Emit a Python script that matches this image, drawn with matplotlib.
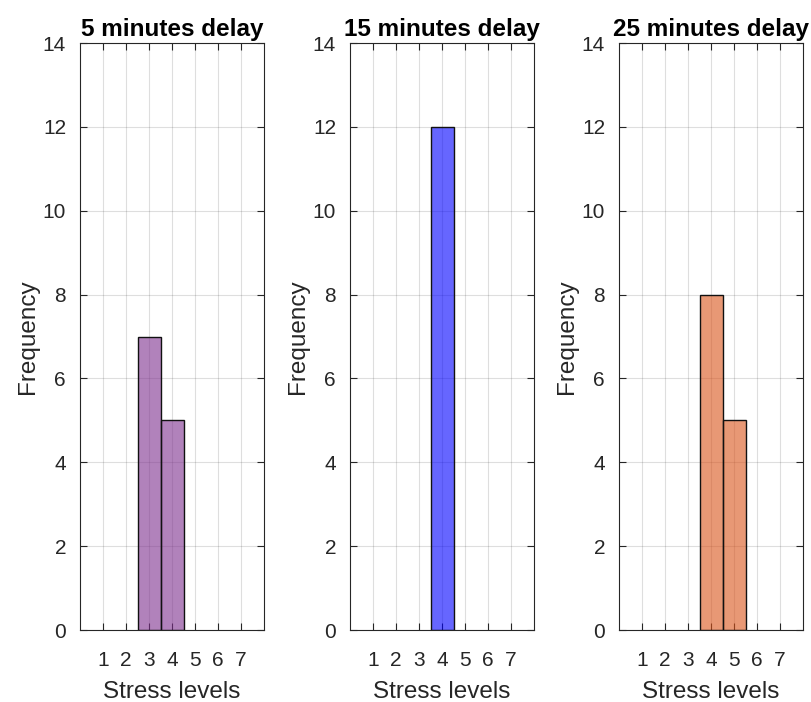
import matplotlib
matplotlib.use("Agg")
import matplotlib.pyplot as plt

plt.rcParams["font.family"] = ["Liberation Sans", "DejaVu Sans"]

# stress level counts per delay
titles = ["5 minutes delay", "15 minutes delay", "25 minutes delay"]
levels = [[3, 4], [4], [4, 5]]
counts = [[7, 5], [12], [8, 5]]
colors = [(0.494, 0.184, 0.556), (0.0, 0.0, 1.0), (0.850, 0.325, 0.098)]
xticks = [1, 2, 3, 4, 5, 6, 7]
yticks = [0, 2, 4, 6, 8, 10, 12, 14]

txt = "#262626"
fig = plt.figure(figsize=(8.11, 7.02), dpi=100)
lefts = [80 / 811, 350 / 811, 619 / 811]
for k in range(3):
    ax = fig.add_axes([lefts[k], 72 / 702, 184 / 811, 587 / 702])
    ax.bar(levels[k], counts[k], width=1.0, color=colors[k] + (0.6,),
           edgecolor="#111111", linewidth=1.0, zorder=3)
    ax.set_xlim(0, 8)
    ax.set_ylim(0, 14)
    ax.set_xticks(xticks)
    ax.set_yticks(yticks)
    ax.grid(True, color="#262626", alpha=0.15, linewidth=0.8, zorder=0)
    ax.tick_params(direction="in", length=5, width=0.8, colors=txt,
                   labelsize=15, top=True, right=True)
    ax.tick_params(axis="x", pad=15)
    ax.tick_params(axis="y", pad=10)
    for s in ax.spines.values():
        s.set_color(txt)
        s.set_linewidth(0.8)
    ax.set_title(titles[k], fontsize=17.5, fontweight="bold", color="black", pad=5)
    ax.set_xlabel("Stress levels", fontsize=17.5, color=txt, labelpad=8)
    ax.set_ylabel("Frequency", fontsize=17.5, color=txt, labelpad=3)

fig.savefig("out.png", dpi=100)
